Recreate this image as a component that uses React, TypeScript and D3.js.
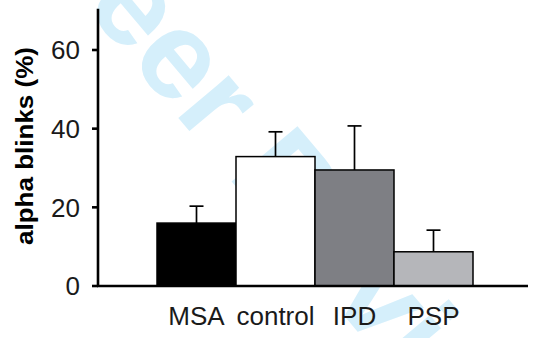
import { useRef, useEffect } from 'react';
import * as d3 from 'd3';

// data
const groups = ['MSA', 'control', 'IPD', 'PSP'];
const means = [16.0, 32.9, 29.5, 8.7];
const errors = [4.3, 6.3, 11.2, 5.5];
const fills = ['#000000', '#ffffff', '#7e7f84', '#b5b6ba'];
const yTicks = [0, 20, 40, 60];

function App() {
  const ref = useRef<SVGSVGElement | null>(null);

  useEffect(() => {
    const svg = d3.select(ref.current);
    if (!ref.current) return;
    svg.selectAll('*').remove();

    const font = 'Liberation Sans, Arial, Helvetica, sans-serif';

    // faint watermark behind the plot
    svg.append('text')
      .attr('transform', 'translate(-122,-240) rotate(50)')
      .attr('font-family', font)
      .attr('font-weight', 'bold')
      .attr('font-size', 125)
      .attr('fill', '#d5effb')
      .text('For Peer Review');

    const y = d3.scaleLinear().domain([0, 70.5]).range([286, 8.7]);
    const x = d3.scaleBand<string>().domain(groups).range([157, 473]).padding(0);
    const axisX = 98;

    const rows = groups.map((g, i) => ({ g, m: means[i], e: errors[i], c: fills[i] }));

    // error bars (upper only)
    const err = svg.append('g').attr('stroke', '#000').attr('stroke-width', 1.7);
    rows.forEach(d => {
      const cx = x(d.g)! + x.bandwidth() / 2;
      err.append('line').attr('x1', cx).attr('x2', cx).attr('y1', y(d.m)).attr('y2', y(d.m + d.e));
      err.append('line').attr('x1', cx - 7).attr('x2', cx + 7).attr('y1', y(d.m + d.e)).attr('y2', y(d.m + d.e));
    });

    svg.append('g')
      .selectAll('rect')
      .data(rows)
      .enter()
      .append('rect')
      .attr('x', d => x(d.g)!)
      .attr('y', d => y(d.m))
      .attr('width', x.bandwidth())
      .attr('height', d => y(0) - y(d.m))
      .attr('fill', d => d.c)
      .attr('stroke', '#000')
      .attr('stroke-width', 1.5);

    // axes
    svg.append('line')
      .attr('x1', axisX).attr('x2', axisX)
      .attr('y1', y(0) + 1).attr('y2', y(70.5))
      .attr('stroke', '#000').attr('stroke-width', 2.6);
    svg.append('line')
      .attr('x1', axisX - 1).attr('x2', 528)
      .attr('y1', y(0)).attr('y2', y(0))
      .attr('stroke', '#000').attr('stroke-width', 2.6);

    const ticks = svg.append('g');
    yTicks.forEach(t => {
      ticks.append('line')
        .attr('x1', axisX - 6).attr('x2', axisX)
        .attr('y1', y(t)).attr('y2', y(t))
        .attr('stroke', '#000').attr('stroke-width', 2.6);
      ticks.append('text')
        .attr('x', 80).attr('y', y(t)).attr('dy', '0.36em')
        .attr('text-anchor', 'end')
        .attr('font-family', font).attr('font-size', 26)
        .attr('fill', '#1a1a1a')
        .text(t);
    });

    svg.append('g')
      .selectAll('text')
      .data(groups)
      .enter()
      .append('text')
      .attr('x', d => x(d)! + x.bandwidth() / 2)
      .attr('y', 325)
      .attr('text-anchor', 'middle')
      .attr('font-family', font).attr('font-size', 26)
      .attr('fill', '#1a1a1a')
      .text(d => d);

    svg.append('text')
      .attr('transform', 'translate(33,146) rotate(-90)')
      .attr('text-anchor', 'middle')
      .attr('font-family', font).attr('font-weight', 'bold').attr('font-size', 23)
      .attr('textLength', 198).attr('lengthAdjust', 'spacingAndGlyphs')
      .attr('fill', '#000')
      .text('alpha blinks (%)');
  }, []);

  return (
    <svg
      ref={ref}
      width={533}
      height={338}
      style={{ position: 'absolute', left: 0, top: 0, background: '#fff' }}
    />
  );
}

export default App;
